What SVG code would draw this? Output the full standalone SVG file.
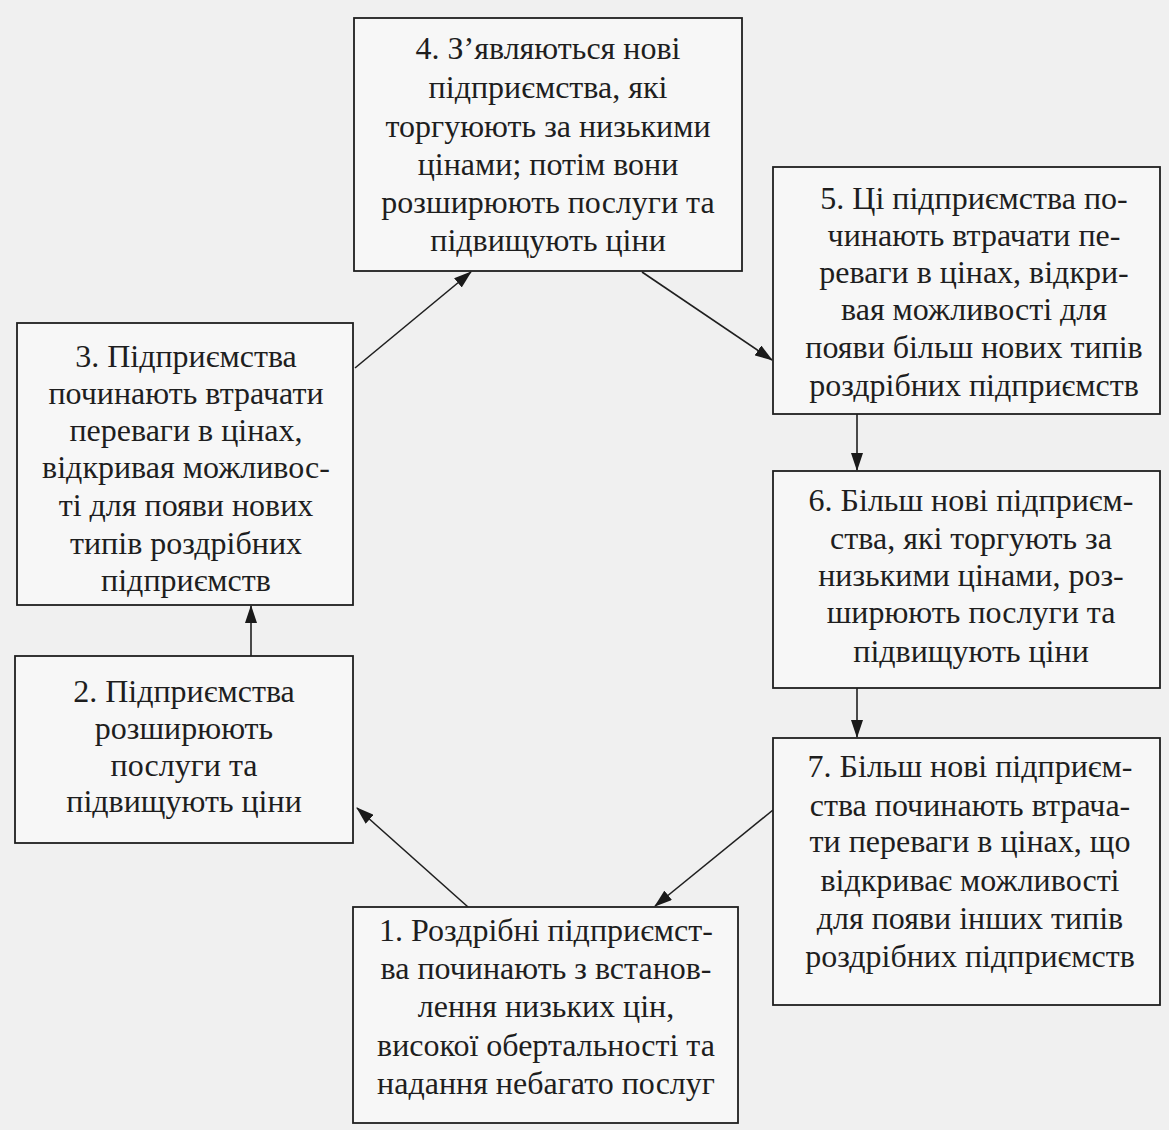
<svg xmlns="http://www.w3.org/2000/svg" width="1169" height="1130" viewBox="0 0 1169 1130">
<defs>
<marker id="ah" viewBox="0 0 18 12" refX="17" refY="6" markerWidth="18" markerHeight="12" markerUnits="userSpaceOnUse" orient="auto">
<path d="M0,0 L18,6 L0,12 z" fill="#1a1a1a"/>
</marker>
<style>
.box{fill:#f7f7f7;stroke:#1f1f1f;stroke-width:1.8}
text{font-family:'Liberation Serif','DejaVu Serif',serif;font-size:32px;fill:#1e1e1e;text-anchor:middle}
.c{stroke:#1f1f1f;stroke-width:1.6;fill:none;marker-end:url(#ah)}
</style>
</defs>
<rect width="1169" height="1130" fill="#f0f0f0"/>
<g id="connectors">
<line class="c" x1="468" y1="907" x2="357" y2="808"/>
<line class="c" x1="251" y1="656" x2="251" y2="606"/>
<line class="c" x1="355" y1="368" x2="471" y2="272"/>
<line class="c" x1="642" y1="272" x2="772" y2="360"/>
<line class="c" x1="857" y1="414" x2="857" y2="470"/>
<line class="c" x1="857" y1="688" x2="857" y2="737"/>
<line class="c" x1="773" y1="810" x2="655" y2="906"/>
</g>
<g id="node4">
<rect class="box" x="354" y="18" width="388" height="253"/>
<text font-family="Liberation Serif, DejaVu Serif, serif"><tspan x="548" y="59">4. З’являються нові</tspan><tspan x="548" y="98">підприємства, які</tspan><tspan x="548" y="137">торгуюють за низькими</tspan><tspan x="548" y="175">цінами; потім вони</tspan><tspan x="548" y="213">розширюють послуги та</tspan><tspan x="548" y="251">підвищують ціни</tspan></text>
</g>
<g id="node5">
<rect class="box" x="773" y="167" width="387" height="247"/>
<text font-family="Liberation Serif, DejaVu Serif, serif"><tspan x="974" y="209">5. Ці підприємства по-</tspan><tspan x="974" y="246">чинають втрачати пе-</tspan><tspan x="974" y="283">реваги в цінах, відкри-</tspan><tspan x="974" y="320">вая можливості для</tspan><tspan x="974" y="358">появи більш нових типів</tspan><tspan x="974" y="396">роздрібних підприємств</tspan></text>
</g>
<g id="node3">
<rect class="box" x="17" y="323" width="336" height="282"/>
<text font-family="Liberation Serif, DejaVu Serif, serif"><tspan x="186" y="367">3. Підприємства</tspan><tspan x="186" y="404">починають втрачати</tspan><tspan x="186" y="441">переваги в цінах,</tspan><tspan x="186" y="478">відкривая можливос-</tspan><tspan x="186" y="516">ті для появи нових</tspan><tspan x="186" y="554">типів роздрібних</tspan><tspan x="186" y="591">підприємств</tspan></text>
</g>
<g id="node6">
<rect class="box" x="773" y="471" width="387" height="217"/>
<text font-family="Liberation Serif, DejaVu Serif, serif"><tspan x="971" y="511">6. Більш нові підприєм-</tspan><tspan x="971" y="549">ства, які торгують за</tspan><tspan x="971" y="586">низькими цінами, роз-</tspan><tspan x="971" y="623">ширюють послуги та</tspan><tspan x="971" y="662">підвищують ціни</tspan></text>
</g>
<g id="node2">
<rect class="box" x="15" y="656" width="338" height="187"/>
<text font-family="Liberation Serif, DejaVu Serif, serif"><tspan x="184" y="702">2. Підприємства</tspan><tspan x="184" y="739">розширюють</tspan><tspan x="184" y="776">послуги та</tspan><tspan x="184" y="812">підвищують ціни</tspan></text>
</g>
<g id="node7">
<rect class="box" x="773" y="738" width="387" height="267"/>
<text font-family="Liberation Serif, DejaVu Serif, serif"><tspan x="970" y="777">7. Більш нові підприєм-</tspan><tspan x="970" y="816">ства починають втрача-</tspan><tspan x="970" y="852">ти переваги в цінах, що</tspan><tspan x="970" y="891">відкриває можливості</tspan><tspan x="970" y="929">для появи інших типів</tspan><tspan x="970" y="967">роздрібних підприємств</tspan></text>
</g>
<g id="node1">
<rect class="box" x="353" y="907" width="385" height="216"/>
<text font-family="Liberation Serif, DejaVu Serif, serif"><tspan x="546" y="941">1. Роздрібні підприємст-</tspan><tspan x="546" y="979">ва починають з встанов-</tspan><tspan x="546" y="1017">лення низьких цін,</tspan><tspan x="546" y="1056">високої обертальності та</tspan><tspan x="546" y="1094">надання небагато послуг</tspan></text>
</g>
</svg>
